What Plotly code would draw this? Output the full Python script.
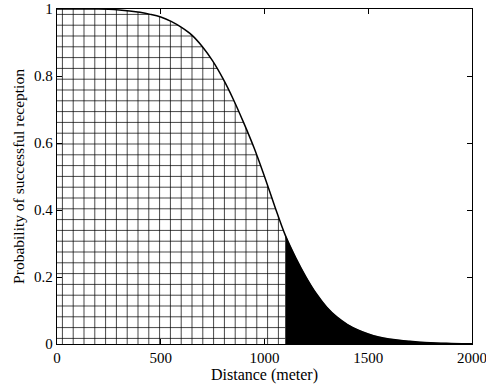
import plotly.graph_objects as go

# Reception probability versus distance
distance = [0, 100, 200, 250, 300, 350, 400, 450, 500, 550, 600, 650, 700,
            750, 800, 850, 900, 950, 1000, 1050, 1100, 1150, 1200, 1250,
            1300, 1350, 1400, 1450, 1500, 1550, 1600, 1650, 1700, 1750,
            1800, 1850, 1900, 1950, 2000]
probability = [1.0, 1.0, 1.0, 0.999, 0.997, 0.994, 0.99, 0.984, 0.976, 0.963,
               0.945, 0.922, 0.888, 0.845, 0.792, 0.73, 0.66, 0.585, 0.50,
               0.41, 0.325, 0.258, 0.2, 0.15, 0.11, 0.08, 0.058, 0.042,
               0.03, 0.021, 0.015, 0.011, 0.008, 0.0055, 0.0038, 0.0025,
               0.0016, 0.001, 0.0005]
threshold = 1100

x_ticks = [0, 500, 1000, 1500, 2000]
y_ticks = [0, 0.2, 0.4, 0.6, 0.8, 1]
y_tick_text = ["0", "0.2", "0.4", "0.6", "0.8", "1"]

inner_x = [d for d in distance if d <= threshold]
inner_y = probability[:len(inner_x)]
outer_x = [d for d in distance if d >= threshold]
outer_y = probability[len(distance) - len(outer_x):]

font = "Liberation Serif, Times New Roman, serif"

fig = go.Figure()
fig.add_trace(go.Scatter(
    x=inner_x, y=inner_y, mode="lines", fill="tozeroy",
    line=dict(color="black", width=0, shape="spline"),
    fillcolor="white",
    fillpattern=dict(shape="+", size=10.8, solidity=0.13,
                     fgcolor="black", bgcolor="white", fgopacity=1),
    hoverinfo="skip", showlegend=False))
fig.add_trace(go.Scatter(
    x=outer_x, y=outer_y, mode="lines", fill="tozeroy",
    line=dict(color="black", width=0.5, shape="spline"),
    fillcolor="black", hoverinfo="skip", showlegend=False))
fig.add_trace(go.Scatter(
    x=distance, y=probability, mode="lines",
    line=dict(color="black", width=1.5, shape="spline"),
    showlegend=False))

axis_common = dict(
    showgrid=False, zeroline=False, showline=True, linecolor="black",
    linewidth=1.3, mirror="ticks", ticks="inside", ticklen=5,
    tickcolor="black", tickwidth=1, automargin=False,
    ticklabeloverflow="allow",
    tickfont=dict(family=font, size=15, color="black"),
)

fig.update_layout(
    width=486, height=391,
    margin=dict(l=57, r=13.5, t=9, b=47),
    paper_bgcolor="white", plot_bgcolor="white",
    font=dict(family=font, color="black"),
    xaxis=dict(range=[0, 2000], tickvals=x_ticks,
               title=dict(text="Distance (meter)", standoff=1,
                          font=dict(family=font, size=16)),
               **axis_common),
    yaxis=dict(range=[0, 1], tickvals=y_ticks, ticktext=y_tick_text,
               title=dict(text="Probability of successful reception",
                          standoff=5, font=dict(family=font, size=15.5)),
               **axis_common),
)

fig.write_html("out.html")
